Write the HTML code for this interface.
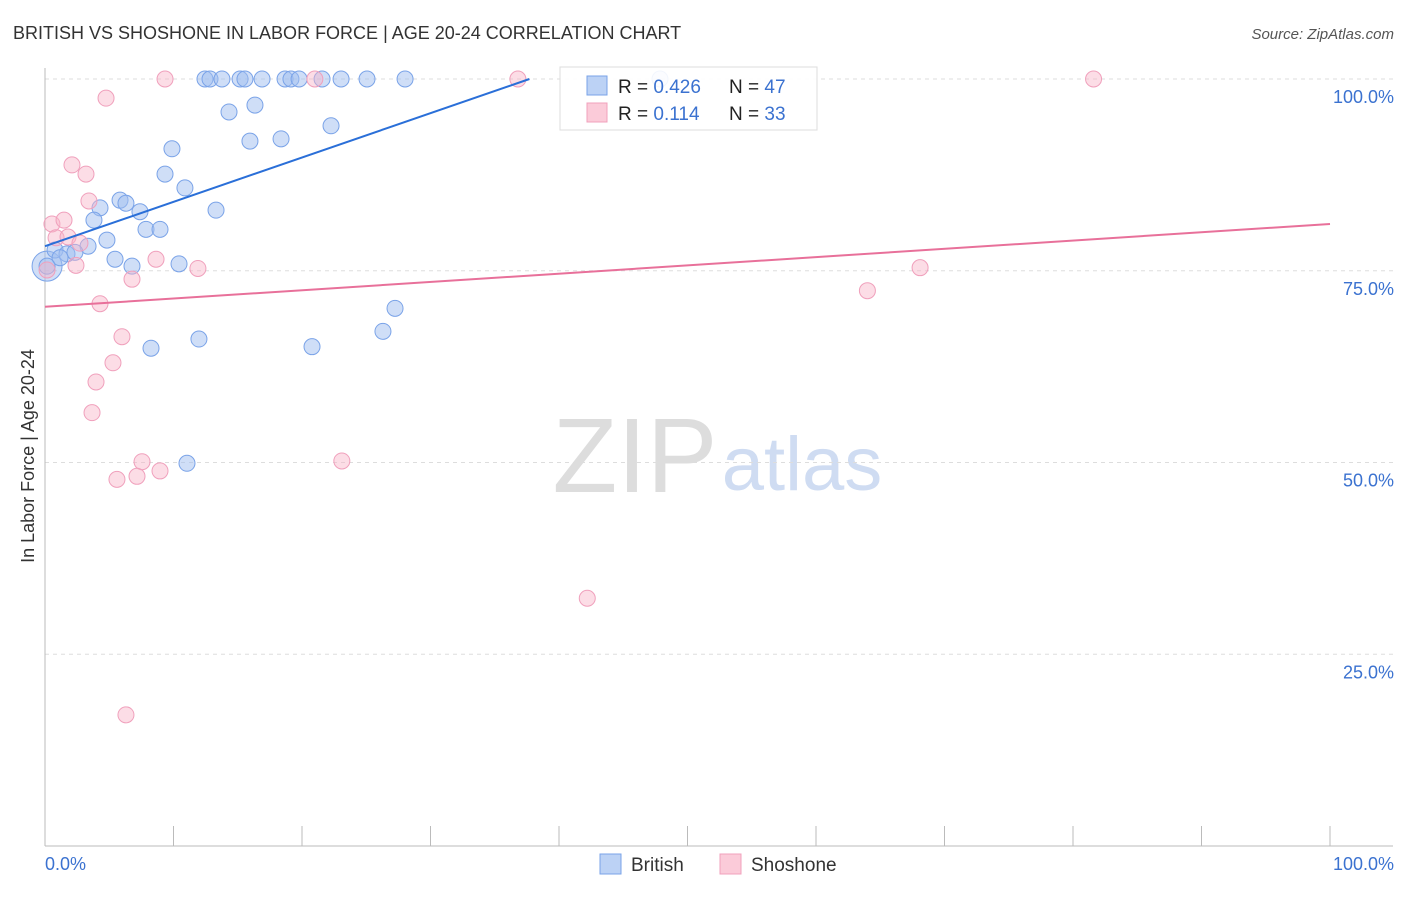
<!DOCTYPE html>
<html><head><meta charset="utf-8"><style>
body{margin:0;background:#fff;font-family:"Liberation Sans",sans-serif}
svg text{font-family:"Liberation Sans",sans-serif}
</style></head><body>
<svg id="chart" width="1406" height="892">
<text x="13" y="39" font-size="18" fill="#333">BRITISH VS SHOSHONE IN LABOR FORCE | AGE 20-24 CORRELATION CHART</text>
<text x="1394" y="39" font-size="15" fill="#555" font-style="italic" text-anchor="end">Source: ZipAtlas.com</text>
<text x="635" y="492" font-size="106" fill="#ddd" font-family="Liberation Serif" text-anchor="middle">ZIP</text>
<text x="802" y="490" font-size="76" fill="#cfdcf2" text-anchor="middle">atlas</text>
<g id="grid"></g><g id="axes"></g><g id="pts"></g><g id="lines"></g>
<text transform="translate(34,456) rotate(-90)" font-size="18" fill="#333" text-anchor="middle">In Labor Force | Age 20-24</text>
<text x="45" y="870" font-size="18" fill="#3b72d0">0.0%</text>
<text x="1394" y="870" font-size="18" fill="#3b72d0" text-anchor="end">100.0%</text>
<g>
<rect x="560" y="67" width="257" height="63" fill="#fff" fill-opacity="0.9" stroke="#ddd"/>
<rect x="587" y="76" width="20" height="19" fill="#bcd2f5" stroke="#7aa3e8"/>
<rect x="587" y="103" width="20" height="19" fill="#fbcbd9" stroke="#f0a0bc"/>
<text x="618" y="93" font-size="19" fill="#222">R = <tspan fill="#3b72d0">0.426</tspan></text>
<text x="729" y="93" font-size="19" fill="#222">N = <tspan fill="#3b72d0">47</tspan></text>
<text x="618" y="120" font-size="19" fill="#222">R = <tspan fill="#3b72d0"> 0.114</tspan></text>
<text x="729" y="120" font-size="19" fill="#222">N = <tspan fill="#3b72d0">33</tspan></text>
</g>
<g>
<rect x="600" y="854" width="21" height="20" fill="#bcd2f5" stroke="#7aa3e8"/>
<text x="631" y="871" font-size="19" fill="#333">British</text>
<rect x="720" y="854" width="21" height="20" fill="#fbcbd9" stroke="#f0a0bc"/>
<text x="751" y="871" font-size="19" fill="#333">Shoshone</text>
</g>
</svg>
<script>
const yTicks=[25,50,75,100];
const yTickLabels=["25.0%","50.0%","75.0%","100.0%"];
const britishX=[12.45,12.84,13.77,15.18,15.56,16.89,18.68,19.14,19.77,21.56,23.04,25.06,28.02,47.86,14.32,16.34,22.26,9.88,15.95,18.37,9.34,10.89,5.84,6.30,4.28,7.39,13.31,3.81,7.86,8.95,4.82,3.35,0.78,1.71,2.33,1.17,0.16,5.45,6.77,10.43,27.24,26.30,8.25,11.98,20.78,11.05];
const britishY=[100,100,100,100,100,100,100,100,100,100,100,100,100,100,95.7,96.6,93.9,90.9,91.9,92.2,87.6,85.8,84.2,83.8,83.2,82.7,82.9,81.6,80.4,80.4,79.0,78.2,77.7,77.2,77.4,76.7,75.6,76.5,75.6,75.9,70.1,67.1,64.9,66.1,65.1,49.9];
const shoshoneX=[9.34,21.0,36.8,81.6,4.75,2.1,3.19,3.42,0.54,1.48,0.86,1.79,2.72,0.16,2.41,8.64,11.9,6.77,4.28,5.99,5.29,3.97,3.66,7.55,8.95,5.6,7.16,23.1,64.0,68.1,42.2,6.3];
const shoshoneY=[100,100,100,100,97.5,88.8,87.6,84.1,81.1,81.6,79.3,79.4,78.6,75.1,75.7,76.5,75.3,73.9,70.7,66.4,63.0,60.5,56.5,50.1,48.9,47.8,48.2,50.2,72.4,75.4,32.3,17.1];
const britishTrend=[[0,78.2],[37.7,100]];
const shoshoneTrend=[[0,70.3],[100,81.1]];
const NS="http://www.w3.org/2000/svg";
const sx=v=>45+v*12.85, sy=v=>846-v*7.67;
function mk(t,a,p){const e=document.createElementNS(NS,t);for(const k in a)e.setAttribute(k,a[k]);p.appendChild(e);return e;}
const grid=document.getElementById('grid'),axes=document.getElementById('axes'),pts=document.getElementById('pts'),lines=document.getElementById('lines');
yTicks.forEach((t,i)=>{
 const l=mk('line',{x1:45,x2:1393,y1:sy(t),y2:sy(t),stroke:'#ddd','stroke-dasharray':'4,4'},grid);
 
 
 const tx=mk('text',{x:1394,y:sy(t)+24,'font-size':18,fill:'#3b72d0','text-anchor':'end'},grid);
 tx.textContent=yTickLabels[i];
 
 
});
mk('line',{x1:45,x2:45,y1:68,y2:846,stroke:'#bbb'},axes);
mk('line',{x1:45,x2:1393,y1:846,y2:846,stroke:'#bbb'},axes);
for(let i=1;i<=10;i++){const x=sx(i*10);const t=mk('line',{x1:x,x2:x,y1:826,y2:846,stroke:'#bbb'},axes);
 
 }
const big=mk('circle',{cx:sx(0.16),cy:sy(75.6),r:15,fill:'rgba(160,190,240,0.5)',stroke:'#7aa3e8'},pts);


britishX.forEach((x,i)=>{const c=mk('circle',{cx:sx(x),cy:sy(britishY[i]),r:8,fill:'rgba(160,190,240,0.5)',stroke:'#7aa3e8'},pts);
 
 });
shoshoneX.forEach((x,i)=>{const c=mk('circle',{cx:sx(x),cy:sy(shoshoneY[i]),r:8,fill:'rgba(248,180,200,0.45)',stroke:'#f0a0bc'},pts);
 
 });
const bl=mk('line',{x1:sx(britishTrend[0][0]),y1:sy(britishTrend[0][1]),x2:sx(britishTrend[1][0]),y2:sy(britishTrend[1][1]),stroke:'#2a6fd8','stroke-width':2},lines);


const pl=mk('line',{x1:sx(shoshoneTrend[0][0]),y1:sy(shoshoneTrend[0][1]),x2:sx(shoshoneTrend[1][0]),y2:sy(shoshoneTrend[1][1]),stroke:'#e8709a','stroke-width':2},lines);


</script>
</body></html>
